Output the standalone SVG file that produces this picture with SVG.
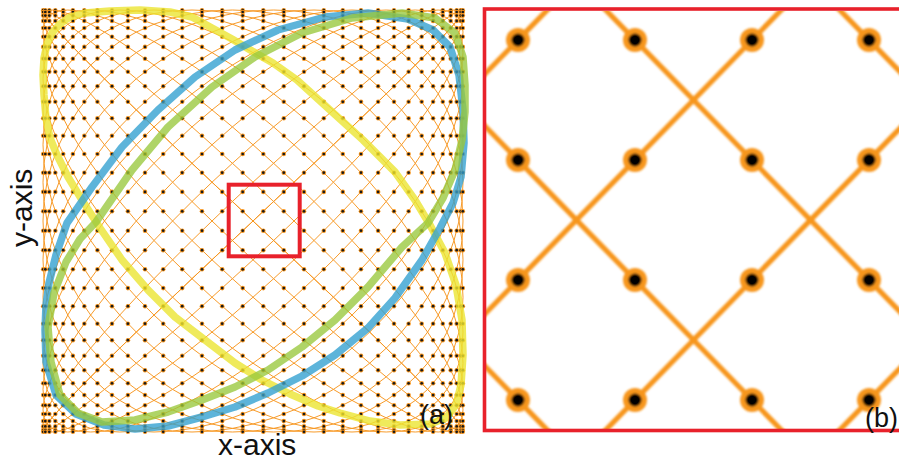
<svg xmlns="http://www.w3.org/2000/svg" width="899" height="462" viewBox="0 0 899 462">
<style>
.mesh{fill:none;stroke:#f7961f;stroke-width:0.95;stroke-linejoin:round}
.curve{fill:none;stroke-width:7.5;stroke-linejoin:round;stroke-linecap:round}
.red{fill:none;stroke:#e8212b}
.lbl{font-family:"Liberation Sans",Arial,Helvetica,sans-serif;fill:#111}
.bline{stroke:#f7961f;stroke-width:5.2;fill:none}
</style>
<defs>
<g id="dt"><circle r="2.3" fill="#f7961f"/><circle r="1.35" fill="#1a1a1a"/></g>
<g id="db"><circle r="12" fill="#f7961f"/><circle r="6.5" fill="#000"/></g>
<g id="dr">
<use href="#dt" x="43.2"/><use href="#dt" x="45.3"/><use href="#dt" x="49.3"/><use href="#dt" x="55.3"/><use href="#dt" x="63.2"/><use href="#dt" x="72.9"/><use href="#dt" x="84.3"/><use href="#dt" x="97.4"/><use href="#dt" x="112"/><use href="#dt" x="127.9"/><use href="#dt" x="145"/><use href="#dt" x="163.2"/><use href="#dt" x="182.2"/><use href="#dt" x="202"/><use href="#dt" x="222.2"/><use href="#dt" x="242.7"/><use href="#dt" x="263.3"/><use href="#dt" x="283.8"/><use href="#dt" x="304"/><use href="#dt" x="323.8"/><use href="#dt" x="342.8"/><use href="#dt" x="361"/><use href="#dt" x="378.1"/><use href="#dt" x="394"/><use href="#dt" x="408.6"/><use href="#dt" x="421.7"/><use href="#dt" x="433.1"/><use href="#dt" x="442.8"/><use href="#dt" x="450.7"/><use href="#dt" x="456.7"/><use href="#dt" x="460.7"/><use href="#dt" x="462.8"/>
</g>
<g id="half" class="mesh">
<polyline points="43,10.9 44,13.6 47,18.1 52,24.3 59,32.1 67.8,41.6 78.4,52.6 90.7,65.1 104.5,78.9 119.8,93.9 136.3,109.9 154,127 172.6,144.8 192,163.3 212,182.2 232.4,201.5 253,221 273.6,240.5 294,259.8 314,278.7 333.4,297.2 352,315.1 369.7,332.1 386.2,348.2 401.5,363.2 415.3,376.9 427.6,389.4 438.2,400.4 447,409.9 454,417.8 459,424 462,428.4 463,431.1"/>
<polyline points="43,18.1 44,24.3 47,32.1 52,41.6 59,52.6 67.8,65.1 78.4,78.9 90.7,93.9 104.5,109.9 119.8,127 136.3,144.8 154,163.3 172.6,182.2 192,201.5 212,221 232.4,240.5 253,259.8 273.6,278.7 294,297.2 314,315.1 333.4,332.1 352,348.2 369.7,363.2 386.2,376.9 401.5,389.4 415.3,400.4 427.6,409.9 438.2,417.8 447,424 454,428.4 459,431.1 462,432"/>
<polyline points="43,32.1 44,41.6 47,52.6 52,65.1 59,78.9 67.8,93.9 78.4,109.9 90.7,127 104.5,144.8 119.8,163.3 136.3,182.2 154,201.5 172.6,221 192,240.5 212,259.8 232.4,278.7 253,297.2 273.6,315.1 294,332.1 314,348.2 333.4,363.2 352,376.9 369.7,389.4 386.2,400.4 401.5,409.9 415.3,417.8 427.6,424 438.2,428.4 447,431.1 454,432"/>
<polyline points="43,52.6 44,65.1 47,78.9 52,93.9 59,109.9 67.8,127 78.4,144.8 90.7,163.3 104.5,182.2 119.8,201.5 136.3,221 154,240.5 172.6,259.8 192,278.7 212,297.2 232.4,315.1 253,332.1 273.6,348.2 294,363.2 314,376.9 333.4,389.4 352,400.4 369.7,409.9 386.2,417.8 401.5,424 415.3,428.4 427.6,431.1 438.2,432"/>
<polyline points="43,78.9 44,93.9 47,109.9 52,127 59,144.8 67.8,163.3 78.4,182.2 90.7,201.5 104.5,221 119.8,240.5 136.3,259.8 154,278.7 172.6,297.2 192,315.1 212,332.1 232.4,348.2 253,363.2 273.6,376.9 294,389.4 314,400.4 333.4,409.9 352,417.8 369.7,424 386.2,428.4 401.5,431.1 415.3,432"/>
<polyline points="43,109.9 44,127 47,144.8 52,163.3 59,182.2 67.8,201.5 78.4,221 90.7,240.5 104.5,259.8 119.8,278.7 136.3,297.2 154,315.1 172.6,332.1 192,348.2 212,363.2 232.4,376.9 253,389.4 273.6,400.4 294,409.9 314,417.8 333.4,424 352,428.4 369.7,431.1 386.2,432"/>
<polyline points="43,144.8 44,163.3 47,182.2 52,201.5 59,221 67.8,240.5 78.4,259.8 90.7,278.7 104.5,297.2 119.8,315.1 136.3,332.1 154,348.2 172.6,363.2 192,376.9 212,389.4 232.4,400.4 253,409.9 273.6,417.8 294,424 314,428.4 333.4,431.1 352,432"/>
<polyline points="43,182.2 44,201.5 47,221 52,240.5 59,259.8 67.8,278.7 78.4,297.2 90.7,315.1 104.5,332.1 119.8,348.2 136.3,363.2 154,376.9 172.6,389.4 192,400.4 212,409.9 232.4,417.8 253,424 273.6,428.4 294,431.1 314,432"/>
<polyline points="43,221 44,240.5 47,259.8 52,278.7 59,297.2 67.8,315.1 78.4,332.1 90.7,348.2 104.5,363.2 119.8,376.9 136.3,389.4 154,400.4 172.6,409.9 192,417.8 212,424 232.4,428.4 253,431.1 273.6,432"/>
<polyline points="43,259.8 44,278.7 47,297.2 52,315.1 59,332.1 67.8,348.2 78.4,363.2 90.7,376.9 104.5,389.4 119.8,400.4 136.3,409.9 154,417.8 172.6,424 192,428.4 212,431.1 232.4,432"/>
<polyline points="43,297.2 44,315.1 47,332.1 52,348.2 59,363.2 67.8,376.9 78.4,389.4 90.7,400.4 104.5,409.9 119.8,417.8 136.3,424 154,428.4 172.6,431.1 192,432"/>
<polyline points="43,332.1 44,348.2 47,363.2 52,376.9 59,389.4 67.8,400.4 78.4,409.9 90.7,417.8 104.5,424 119.8,428.4 136.3,431.1 154,432"/>
<polyline points="43,363.2 44,376.9 47,389.4 52,400.4 59,409.9 67.8,417.8 78.4,424 90.7,428.4 104.5,431.1 119.8,432"/>
<polyline points="43,389.4 44,400.4 47,409.9 52,417.8 59,424 67.8,428.4 78.4,431.1 90.7,432"/>
<polyline points="43,409.9 44,417.8 47,424 52,428.4 59,431.1 67.8,432"/>
<polyline points="43,424 44,428.4 47,431.1 52,432"/>
<polyline points="43,431.1 44,432"/>
</g>
<g id="fam"><use href="#half"/><use href="#half" transform="rotate(180 253 221)"/></g>
<clipPath id="clipB"><rect x="486" y="11" width="420" height="418"/></clipPath>
<filter id="soft" x="-5%" y="-5%" width="110%" height="110%"><feGaussianBlur stdDeviation="0.9"/></filter>
</defs>
<rect width="899" height="462" fill="#fff"/>
<g id="panel-a">
<g id="connectors">
<use href="#fam"/>
<use href="#fam" transform="matrix(-1 0 0 1 506 0)"/>
</g>
<g id="samples">
<use href="#dr" y="10.2"/><use href="#dr" y="12"/><use href="#dr" y="15.6"/><use href="#dr" y="20.9"/><use href="#dr" y="28"/><use href="#dr" y="36.7"/><use href="#dr" y="46.9"/><use href="#dr" y="58.7"/><use href="#dr" y="71.8"/><use href="#dr" y="86.2"/><use href="#dr" y="101.8"/><use href="#dr" y="118.3"/><use href="#dr" y="135.8"/><use href="#dr" y="154"/><use href="#dr" y="172.7"/><use href="#dr" y="191.9"/><use href="#dr" y="211.3"/><use href="#dr" y="230.7"/><use href="#dr" y="250.2"/><use href="#dr" y="269.3"/><use href="#dr" y="288.1"/><use href="#dr" y="306.2"/><use href="#dr" y="323.7"/><use href="#dr" y="340.2"/><use href="#dr" y="355.8"/><use href="#dr" y="370.2"/><use href="#dr" y="383.3"/><use href="#dr" y="395.1"/><use href="#dr" y="405.3"/><use href="#dr" y="414"/><use href="#dr" y="421.1"/><use href="#dr" y="426.4"/><use href="#dr" y="430"/><use href="#dr" y="431.8"/>
</g>
<g id="curve-yellow">
<path class="curve" stroke="#ebe532" stroke-opacity="0.8" d="M44,95 L43,75 L44,58 L47,44 L52,33 L60,24 L70,17 L85,13 L110,11 L140,10 L170,12 L192,17 L212,28 L232,39 L252,51 L273,63 L297,80 L330,110 L363,140 L395,172 L415,200 L430,225 L445,253 L456,285 L462,320 L463,355 L461,385 L456,405 L446,418 L430,424 L400,425 L370,421 L340,413 L318,406 L290,394 L262,380 L235,363 L205,340 L175,317 L148,290 L122,260 L100,228 L82,200 L68,177 L57,155 L50,138 L46,118 Z"/>
</g>
<g id="curve-blue">
<path class="curve" stroke="#2f9fd0" stroke-opacity="0.78" d="M67,223 L92,187 L122,147 L158,110 L195,77 L235,50 L278,30 L325,17 L368,13 L408,19 L433,30 L450,47 L459,75 L463,110 L464,143 L461,177 L453,203 L440,228 L422,260 L395,298 L368,328 L335,355 L302,376 L268,393 L235,407 L202,417 L168,426 L135,429 L104,425 L76,414 L56,395 L46,362 L45,330 L46,305 L49,283 L56,255 Z"/>
</g>
<g id="curve-green">
<path class="curve" stroke="#98c83c" stroke-opacity="0.78" d="M96,222 L132,170 L168,127 L212,87 L255,57 L302,33 L352,18 L402,13 L435,18 L455,33 L463,57 L465,85 L465,112 L462,140 L455,170 L443,198 L428,223 L402,247 L368,287 L335,320 L302,347 L268,370 L235,387 L202,400 L168,412 L135,420 L102,422 L78,413 L60,395 L51,362 L48,327 L54,293 L66,262 L80,239 Z"/>
</g>
<g id="zoom-box"><rect class="red" x="228.7" y="184.7" width="71" height="71.6" stroke-width="4"/></g>
<text class="lbl" x="420" y="424" font-size="27">(a)</text>
</g>
<g id="panel-b">
<g clip-path="url(#clipB)">
<g filter="url(#soft)">
<g id="b-lines">
<line class="bline" x1="401" y1="280" x2="1103" y2="1000"/>
<line class="bline" x1="401" y1="40" x2="1103" y2="760"/>
<line class="bline" x1="401" y1="-200" x2="1103" y2="520"/>
<line class="bline" x1="401" y1="-440" x2="1103" y2="280"/>
<line class="bline" x1="401" y1="160" x2="1103" y2="-560"/>
<line class="bline" x1="401" y1="400" x2="1103" y2="-320"/>
<line class="bline" x1="401" y1="640" x2="1103" y2="-80"/>
<line class="bline" x1="401" y1="880" x2="1103" y2="160"/>
</g>
<g id="b-dots">
<use href="#db" x="518" y="40"/><use href="#db" x="635" y="40"/><use href="#db" x="752" y="40"/><use href="#db" x="869" y="40"/>
<use href="#db" x="518" y="160"/><use href="#db" x="635" y="160"/><use href="#db" x="752" y="160"/><use href="#db" x="869" y="160"/>
<use href="#db" x="518" y="280"/><use href="#db" x="635" y="280"/><use href="#db" x="752" y="280"/><use href="#db" x="869" y="280"/>
<use href="#db" x="518" y="400"/><use href="#db" x="635" y="400"/><use href="#db" x="752" y="400"/><use href="#db" x="869" y="400"/>
</g>
</g>
</g>
<rect class="red" x="484.5" y="9" width="424" height="421.5" stroke-width="3.6"/>
<text class="lbl" x="865" y="427" font-size="27">(b)</text>
</g>
<text class="lbl" x="218" y="455" font-size="30">x-axis</text>
<text class="lbl" font-size="30" transform="translate(32,247) rotate(-90)">y-axis</text>
</svg>
